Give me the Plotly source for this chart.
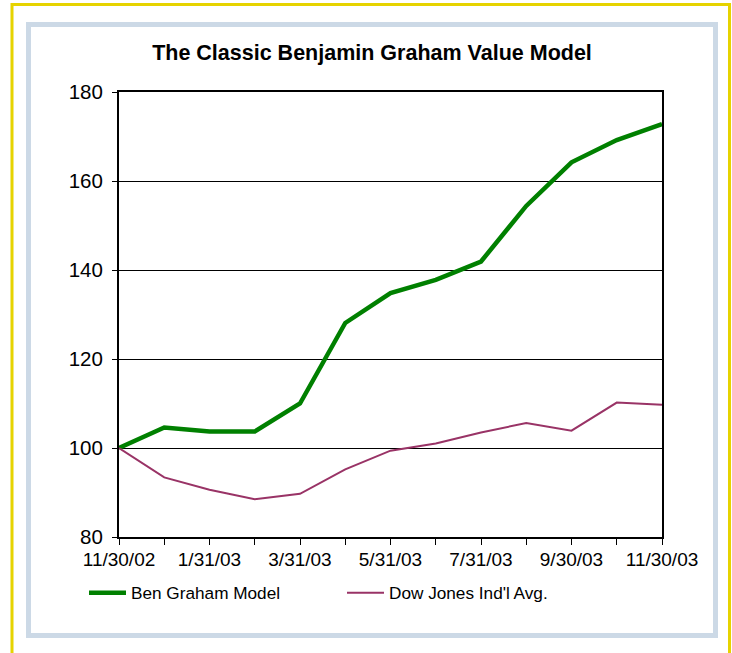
import plotly.graph_objects as go

# ---- data ----
months = ["11/30/02", "12/31/02", "1/31/03", "2/28/03", "3/31/03", "4/30/03", "5/31/03",
          "6/30/03", "7/31/03", "8/31/03", "9/30/03", "10/31/03", "11/30/03"]
ben_graham = [100.0, 104.6, 103.7, 103.7, 110.0, 128.1, 134.8, 137.8, 141.9, 154.4, 164.2, 169.2, 172.8]
dow_jones = [100.0, 93.4, 90.6, 88.5, 89.7, 95.2, 99.4, 101.0, 103.5, 105.6, 103.9, 110.2, 109.7]
tick_labels = ["11/30/02", "", "1/31/03", "", "3/31/03", "", "5/31/03", "", "7/31/03", "", "9/30/03", "", "11/30/03"]
y_ticks = [80, 100, 120, 140, 160, 180]

W, H = 732, 653
L, R, T, B = 119, 662, 92, 537


def px(x):
    return (x - L) / (R - L)


def py(y):
    return (B - y) / (B - T)


FONT = "Liberation Sans, Arial, sans-serif"

fig = go.Figure()
fig.add_trace(go.Scatter(x=months, y=ben_graham, mode="lines", name="Ben Graham Model",
                         line=dict(color="#008000", width=4.5)))
fig.add_trace(go.Scatter(x=months, y=dow_jones, mode="lines", name="Dow Jones Ind'l Avg.",
                         line=dict(color="#993366", width=2)))

shapes = [
    dict(type="rect", xref="paper", yref="paper", x0=px(12), x1=px(729.5), y0=py(4.5), y1=py(670),
         line=dict(color="#E6D300", width=3), fillcolor="rgba(0,0,0,0)", layer="below"),
    dict(type="rect", xref="paper", yref="paper", x0=px(28.5), x1=px(715.5), y0=py(24.5), y1=py(635.5),
         line=dict(color="#CCD9E6", width=5), fillcolor="rgba(0,0,0,0)", layer="below"),
]

fig.update_layout(
    width=W, height=H,
    margin=dict(l=L, r=W - R, t=T, b=H - B, pad=0),
    paper_bgcolor="white", plot_bgcolor="white",
    font=dict(family=FONT, color="black", size=18),
    title=dict(text="<b>The Classic Benjamin Graham Value Model</b>",
               x=px(372), xref="paper", xanchor="center",
               y=1 - 52 / H, yref="container", yanchor="middle",
               font=dict(family=FONT, size=21.5, color="black")),
    showlegend=True,
    legend=dict(orientation="h", x=px(84), xanchor="left", y=py(593), yanchor="middle",
                font=dict(family=FONT, size=17.2, color="black"),
                entrywidth=206, entrywidthmode="pixels", itemwidth=37,
                bgcolor="rgba(0,0,0,0)", tracegroupgap=0),
    shapes=shapes,
    xaxis=dict(type="category", range=[0, 12], showgrid=False, zeroline=False,
               showline=True, linecolor="black", linewidth=2, mirror=True,
               ticks="outside", ticklen=6, tickwidth=1, tickcolor="black",
               tickmode="array", tickvals=months, ticktext=tick_labels,
               ticklabelstandoff=-2,
               tickangle=0, tickfont=dict(family=FONT, size=19, color="black")),
    yaxis=dict(range=[80, 180], tickvals=y_ticks, showgrid=True, gridcolor="black", gridwidth=1,
               zeroline=False, showline=True, linecolor="black", linewidth=2, mirror=True,
               ticks="outside", ticklen=5, tickwidth=1, tickcolor="black",
               ticklabelstandoff=5,
               tickfont=dict(family=FONT, size=20.5, color="black")),
)

fig.write_html("out.html", config={"displayModeBar": False},
               post_script="document.body.style.margin='0';")
